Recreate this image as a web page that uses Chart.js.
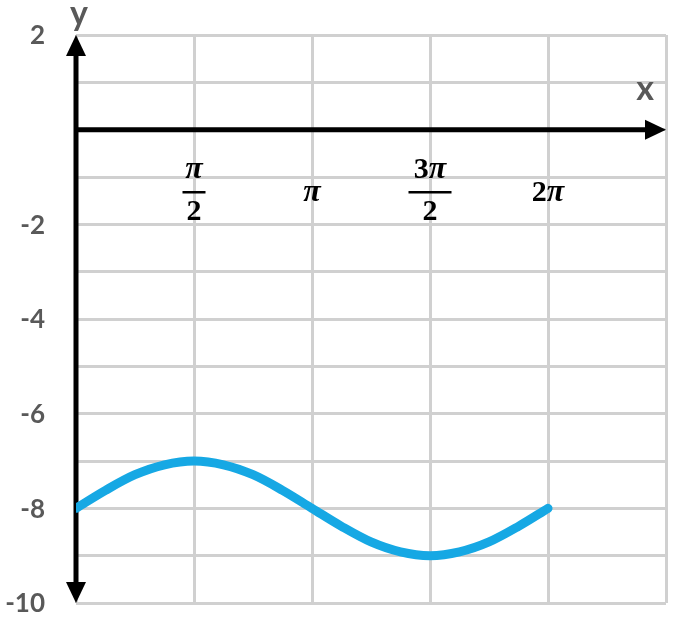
<!DOCTYPE html>
<html>
<head>
<meta charset="utf-8">
<script src="https://cdn.jsdelivr.net/npm/chart.js@4"></script>
<style>
  body { margin: 0; background: #fff; }
  #wrap { width: 677px; height: 620px; }
</style>
</head>
<body>
<div id="wrap"><canvas id="plot" width="677" height="620"></canvas></div>
<script>
// x in units of pi/2, every pi/8
const xs = [0, 0.25, 0.5, 0.75, 1, 1.25, 1.5, 1.75, 2, 2.25, 2.5, 2.75, 3, 3.25, 3.5, 3.75, 4];
const ys = [-8, -7.62, -7.29, -7.08, -7, -7.08, -7.29, -7.62, -8, -8.38, -8.71, -8.92, -9, -8.92, -8.71, -8.38, -8];
const yTicks = [2, -2, -4, -6, -8, -10];
const xTicks = [
  { v: 1, num: 'π', den: '2' },
  { v: 2, text: 'π' },
  { v: 3, num: '3π', den: '2' },
  { v: 4, text: '2π' }
];

const points = xs.map((x, i) => ({ x: x, y: ys[i] }));

const UPRIGHT = 'bold 30px "Liberation Serif"';
const ITALIC = 'bold italic 32px "Liberation Serif"';

// digits upright, pi italic, whole string centred on cx
function mathText(ctx, str, cx, y) {
  const parts = str.split('').map(ch => {
    const f = ch === 'π' ? ITALIC : UPRIGHT;
    ctx.font = f;
    return { ch: ch, f: f, w: ctx.measureText(ch).width };
  });
  const total = parts.reduce((s, p) => s + p.w, 0);
  let x = cx - total / 2;
  ctx.textAlign = 'left';
  parts.forEach(p => {
    ctx.font = p.f;
    ctx.fillText(p.ch, x, y);
    x += p.w;
  });
}

function arrow(ctx, x, y, dir) {
  ctx.beginPath();
  if (dir === 'up') { ctx.moveTo(x, y); ctx.lineTo(x - 10, y + 21); ctx.lineTo(x + 10, y + 21); }
  if (dir === 'down') { ctx.moveTo(x, y); ctx.lineTo(x - 10, y - 21); ctx.lineTo(x + 10, y - 21); }
  if (dir === 'right') { ctx.moveTo(x, y); ctx.lineTo(x - 21, y - 10); ctx.lineTo(x - 21, y + 10); }
  ctx.closePath();
  ctx.fill();
}

const axesPlugin = {
  id: 'axesPlugin',
  beforeDatasetsDraw(chart) {
    const ctx = chart.ctx;
    const xs_ = chart.scales.x, ys_ = chart.scales.y;
    const x0 = xs_.getPixelForValue(0), y0 = ys_.getPixelForValue(0);
    const top = ys_.getPixelForValue(2), bottom = ys_.getPixelForValue(-10);
    const right = xs_.getPixelForValue(5);
    ctx.save();
    ctx.strokeStyle = '#000';
    ctx.fillStyle = '#000';
    ctx.lineWidth = 5;
    ctx.beginPath();
    ctx.moveTo(x0, top + 15); ctx.lineTo(x0, bottom - 15);
    ctx.moveTo(x0 - 2, y0); ctx.lineTo(right - 15, y0);
    ctx.stroke();
    arrow(ctx, x0, top, 'up');
    arrow(ctx, x0, bottom, 'down');
    arrow(ctx, right, y0, 'right');

    // y tick labels
    ctx.fillStyle = '#595959';
    ctx.font = 'bold 26px Lato';
    ctx.textAlign = 'right';
    ctx.textBaseline = 'middle';
    yTicks.forEach(t => ctx.fillText(String(t), 45, ys_.getPixelForValue(t) + 1));

    // axis names
    ctx.font = 'bold 34px Lato';
    ctx.textAlign = 'center';
    ctx.fillText('y', 79, 14);
    ctx.fillText('x', 645, 89);

    // x tick labels (fractions of pi)
    ctx.fillStyle = '#000';
    xTicks.forEach(t => {
      const px = xs_.getPixelForValue(t.v);
      if (t.text) {
        mathText(ctx, t.text, px, 193);
      } else {
        mathText(ctx, t.num, px, 170);
        mathText(ctx, t.den, px, 212);
        const w = t.num.length > 1 ? 43 : 23;
        ctx.fillRect(px - w / 2, 191, w, 2.5);
      }
    });
    ctx.restore();
  }
};

const ctx = document.getElementById('plot').getContext('2d');
const myChart = new Chart(ctx, {
  type: 'scatter',
  data: {
    datasets: [{
      data: points,
      showLine: true,
      borderColor: '#16a8e4',
      borderWidth: 9,
      borderCapStyle: 'round',
      pointRadius: 0,
      tension: 0.4,
      cubicInterpolationMode: 'monotone'
    }]
  },
  options: {
    responsive: false,
    animation: false,
    layout: { padding: { left: 76, right: 11, top: 35, bottom: 17 } },
    plugins: { legend: { display: false }, tooltip: { enabled: false } },
    scales: {
      x: {
        type: 'linear', min: 0, max: 5,
        ticks: { display: false, stepSize: 1 },
        grid: { color: '#d0d0d0', lineWidth: 3, drawTicks: false },
        border: { display: false }
      },
      y: {
        type: 'linear', min: -10, max: 2,
        ticks: { display: false, stepSize: 1 },
        grid: { color: '#d0d0d0', lineWidth: 3, drawTicks: false },
        border: { display: false }
      }
    }
  },
  plugins: [axesPlugin]
});
</script>
</body>
</html>
